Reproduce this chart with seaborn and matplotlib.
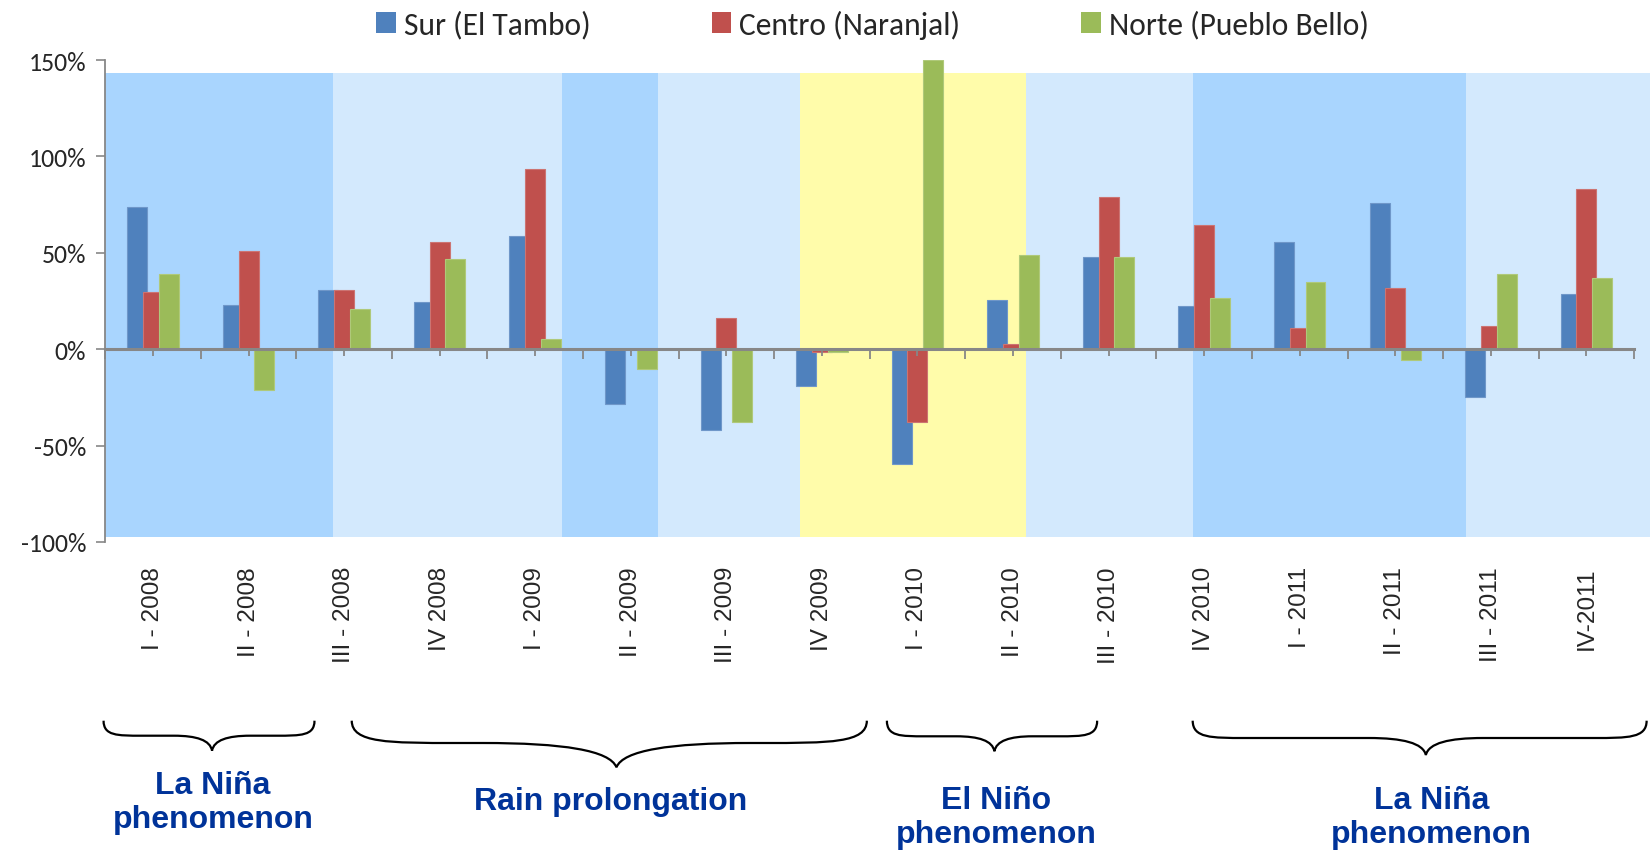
import numpy as np
import matplotlib
matplotlib.use("Agg")
import matplotlib.pyplot as plt
import seaborn as sns
from matplotlib.path import Path
from matplotlib.patches import PathPatch, Patch
from matplotlib.ticker import FuncFormatter
from matplotlib.transforms import blended_transform_factory

# ---------------------------------------------------------------- data
quarters = ["I - 2008", "II - 2008", "III - 2008", "IV 2008",
            "I - 2009", "II - 2009", "III - 2009", "IV 2009",
            "I - 2010", "II - 2010", "III - 2010", "IV 2010",
            "I - 2011", "II - 2011", "III - 2011", "IV-2011"]
regions = ["Sur (El Tambo)", "Centro (Naranjal)", "Norte (Pueblo Bello)"]

sur = [74, 23, 30.5, 24.5, 58.5, -28.5, -42, -19,
       -59.5, 25.5, 48, 22.5, 55.5, 76, -25, 28.5]
centro = [29.5, 51, 30.5, 55.5, 93.5, 0, 16, -1.2,
          -37.5, 2.5, 79, 64.5, 11, 31.5, 12, 83]
norte = [38.8, -21.3, 21, 47, 5.5, -10.5, -37.5, -1.3,
         150, 49, 48, 26.5, 34.7, -5.5, 38.8, 36.7]

y_ticks = [-100, -50, 0, 50, 100, 150]

# climate phases shaded behind the bars (edges in category units)
phase_edges = [-0.5, 1.88, 4.28, 5.28, 6.77, 9.14, 10.88, 13.74, 15.67]
phase_kinds = ["nina", "wet", "nina", "wet", "nino", "wet", "nina", "wet"]

brace_labels = ["La Niña\nphenomenon", "Rain prolongation",
                "El Niño\nphenomenon", "La Niña\nphenomenon"]

# ---------------------------------------------------------------- style
sns.set_theme(style="white")
plt.rcParams["font.family"] = ["Liberation Sans", "DejaVu Sans"]
calibri_like = ["Carlito", "Lato", "DejaVu Sans"]

GRAY = "#878787"
palette = ["#4F81BD", "#C0504D", "#9BBB59"]
edges = ["#6F97C9", "#CC7472", "#AFC97A"]
phase_colors = {"nina": "#A9D5FE", "wet": "#D3E9FD", "nino": "#FFFCAA"}

W, H = 1650, 854
fig = plt.figure(figsize=(W / 100, H / 100), dpi=100)
ax = fig.add_axes([105.2 / W, 1 - 543 / H, 1529 / W, (543 - 61) / H])

ymin, ymax = -100, 150
span = ymax - ymin

# phase backgrounds
for a, b, k in zip(phase_edges[:-1], phase_edges[1:], phase_kinds):
    ax.axvspan(a, b, ymin=(-97.5 - ymin) / span, ymax=(143 - ymin) / span,
               color=phase_colors[k], lw=0, zorder=0, clip_on=False)

# clustered, slightly overlapping bars
x = np.arange(len(quarters))
offsets = [-0.165, 0.0, 0.165]
for vals, off, col, ec in zip([sur, centro, norte], offsets, palette, edges):
    sns.barplot(x=x + off, y=vals, native_scale=True, width=0.209,
                color=col, saturation=1, errorbar=None, ax=ax,
                edgecolor=ec, linewidth=0.8, zorder=2)

ax.set_xlim(-0.5, 15.5)
ax.set_ylim(ymin, ymax)

# y axis
ax.set_yticks(y_ticks)
ax.yaxis.set_major_formatter(FuncFormatter(lambda v, _: f"{v:.0f}%"))
ax.tick_params(axis="y", left=True, length=6.7, width=1.2, color=GRAY,
               pad=7, labelsize=18.5, direction="out")
for lbl in ax.get_yticklabels():
    lbl.set_family(calibri_like)
ax.set_ylabel("")

# category labels below the plot
ax.set_xticks(x)
ax.set_xticklabels(quarters, rotation=90)
ax.tick_params(axis="x", bottom=False, length=0, pad=17.3, labelsize=17.6)
ax.set_xlabel("")

for s in ["top", "right", "bottom"]:
    ax.spines[s].set_visible(False)
ax.spines["left"].set_color(GRAY)
ax.spines["left"].set_linewidth(1.3)

# category axis drawn along the zero line
zero_axis = ax.secondary_xaxis((0 - ymin) / span)
zero_axis.set_zorder(3)
zero_axis.set_xticks(np.arange(-0.5, len(quarters), 1.0))
zero_axis.set_xticks(x, minor=True)
zero_axis.tick_params(which="major", length=7.2, width=1.3, color=GRAY,
                      direction="out", labelbottom=False, labeltop=False)
zero_axis.tick_params(which="minor", length=5.2, width=1.3, color=GRAY,
                      direction="out", labelbottom=False, labeltop=False)
for s in zero_axis.spines.values():
    s.set_color(GRAY)
    s.set_linewidth(2.2)

# legend
handles = [Patch(facecolor=c, edgecolor="none") for c in palette]
fig.legend(handles, regions, loc="center", bbox_to_anchor=(872.5 / W, 1 - 25 / H),
           ncol=3, frameon=False, prop={"family": calibri_like, "size": 22.7},
           handlelength=0.62, handleheight=0.62, handletextpad=0.25,
           columnspacing=3.85, borderpad=0, borderaxespad=0)

# curly braces grouping the quarters into climate periods
trans = blended_transform_factory(ax.transData, fig.transFigure)


def fy(py):
    return 1 - py / H


def brace(x0, x1, xc, yt, ym, ytip, r1, r2):
    verts = [
        (x0, fy(yt)),
        (x0, fy(ym)), (x0 + 0.35 * r1, fy(ym)), (x0 + r1, fy(ym)),
        (xc - r2, fy(ym)),
        (xc - 0.4 * r2, fy(ym)), (xc - 0.05 * r2, fy(ym + 0.3 * (ytip - ym))), (xc, fy(ytip)),
        (xc + 0.05 * r2, fy(ym + 0.3 * (ytip - ym))), (xc + 0.4 * r2, fy(ym)), (xc + r2, fy(ym)),
        (x1 - r1, fy(ym)),
        (x1 - 0.35 * r1, fy(ym)), (x1, fy(ym)), (x1, fy(yt)),
    ]
    codes = ([Path.MOVETO] + [Path.CURVE4] * 3 + [Path.LINETO] + [Path.CURVE4] * 6
             + [Path.LINETO] + [Path.CURVE4] * 3)
    ax.add_patch(PathPatch(Path(verts, codes), transform=trans, fill=False,
                           edgecolor="black", lw=1.6, clip_on=False))


brace_specs = [
    (-0.517, 1.69, 0.618, 721.7, 736.7, 751.7, 0.40, 0.40),
    (2.08, 7.47, 4.85, 721.7, 744.0, 768.3, 1.10, 1.40),
    (7.68, 9.88, 8.805, 721.7, 737.3, 752.3, 0.40, 0.40),
    (10.88, 15.63, 13.32, 721.7, 739.0, 756.0, 0.55, 0.60),
]
for spec in brace_specs:
    brace(*spec)

text_specs = [(0.628, 803), (4.79, 802), (8.82, 818), (13.38, 818)]
for label, (tx, ty) in zip(brace_labels, text_specs):
    ax.text(tx, fy(ty), label, transform=trans, ha="center", va="center",
            fontsize=23, fontweight="bold", color="#003399",
            family=["Liberation Sans", "DejaVu Sans"], linespacing=1.2,
            clip_on=False)

fig.savefig("out.png", dpi=100)
